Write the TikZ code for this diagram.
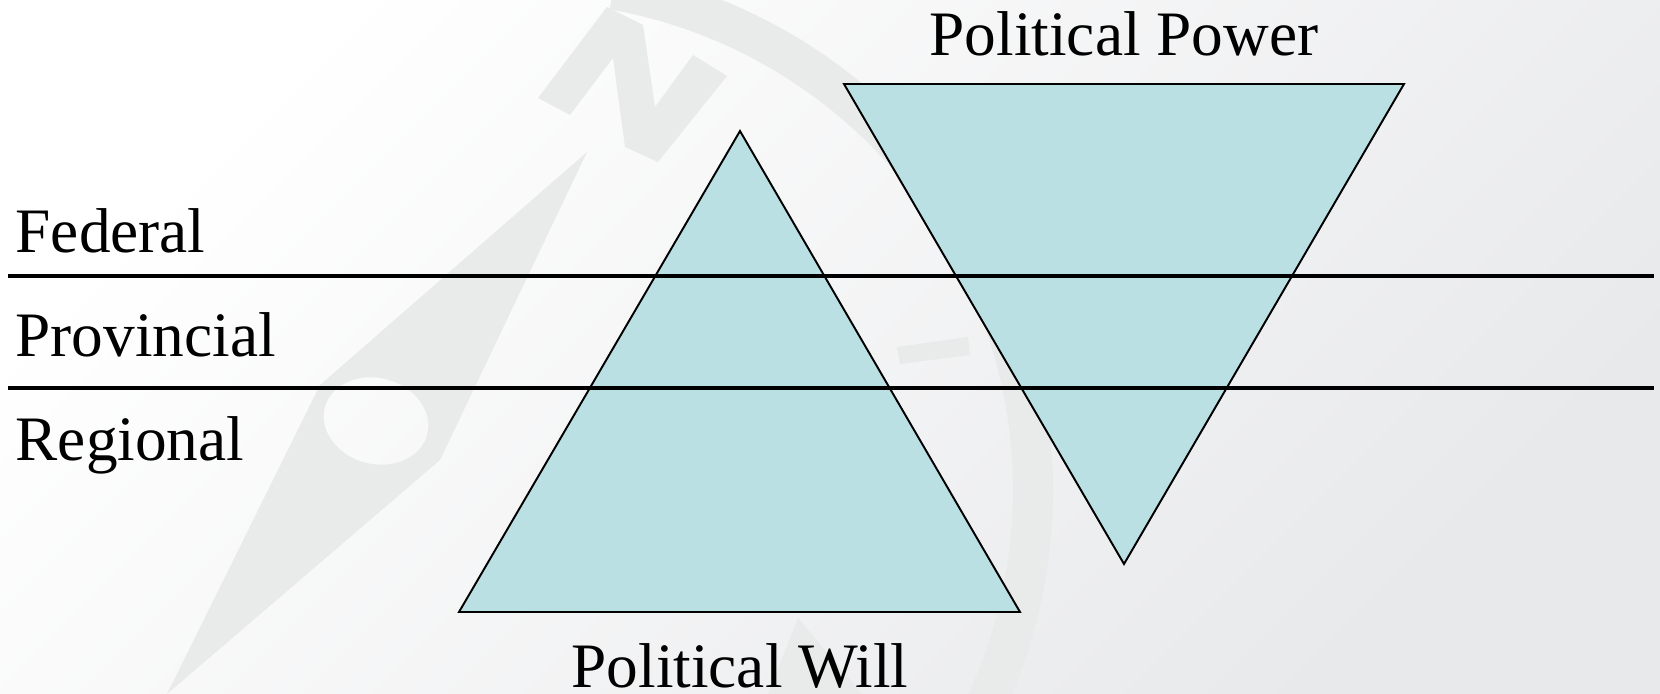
\documentclass[tikz,border=0pt]{standalone}
\usepackage{fontspec}
\setmainfont{Liberation Serif}
\definecolor{trifill}{RGB}{186,224,228}
\definecolor{wm}{RGB}{233,234,234}
\definecolor{bgdark}{RGB}{232,233,235}

\begin{document}
\begin{tikzpicture}[x=0.01cm, y=-0.01cm,
  level/.style={font=\fontsize{18}{22}\selectfont, inner sep=0pt},
  wedge/.style={fill=trifill, draw=black, line width=0.55pt},
  divider/.style={line width=1.2pt},
  wmark/.style={fill=wm}]

% Background
\useasboundingbox (0,0) rectangle (1660,694);
\shade[top color=white, bottom color=bgdark, shading angle=45] (0,0) rectangle (1660,694);

% Compass watermark
\begin{scope}
\clip (0,0) rectangle (1660,694);
\draw[wm, line width=0.4cm] (525,490) ++(-80:508) arc[start angle=-80, end angle=30, radius=508];
\fill[wmark, even odd rule] (587,152) -- (320,385) -- (167,694) -- (440,460) -- cycle
  (376,421) ellipse [x radius=53, y radius=43, rotate=-15];
\fill[wmark] (538,98) -- (607,7) -- (643,25) -- (655,107) -- (693,55) -- (727,76)
  -- (658,162) -- (625,147) -- (613,58) -- (570,115) -- cycle;
\fill[wmark] (897,347) -- (968,337) -- (970,355) -- (900,364) -- cycle;
\fill[wmark] (798,618) -- (768,694) -- (862,694) -- cycle;
\end{scope}

% Triangles
\coordinate (willtop) at (740,131);
\coordinate (willbl) at (459,612);
\coordinate (willbr) at (1020,612);
\coordinate (powtl) at (844,84);
\coordinate (powtr) at (1404,84);
\coordinate (powbot) at (1124,564);
\filldraw[wedge] (willtop) -- (willbr) -- (willbl) -- cycle;
\filldraw[wedge] (powtl) -- (powtr) -- (powbot) -- cycle;

% Levels
\coordinate (fedL) at (8,276);
\coordinate (fedR) at (1654,276);
\coordinate (provL) at (8,388);
\coordinate (provR) at (1654,388);
\draw[divider] (fedL) -- (fedR);
\draw[divider] (provL) -- (provR);

\node[level, anchor=base west] (federal) at (15,252) {Federal};
\node[level, anchor=base west] (provincial) at (15,356) {Provincial};
\node[level, anchor=base west] (regional) at (15,460) {Regional};

% Titles
\node[level, anchor=base] (power) at (1124,55) {Political Power};
\node[level, anchor=base, text depth=0pt] (will) at (740,687) {Political Will};

\end{tikzpicture}
\end{document}
